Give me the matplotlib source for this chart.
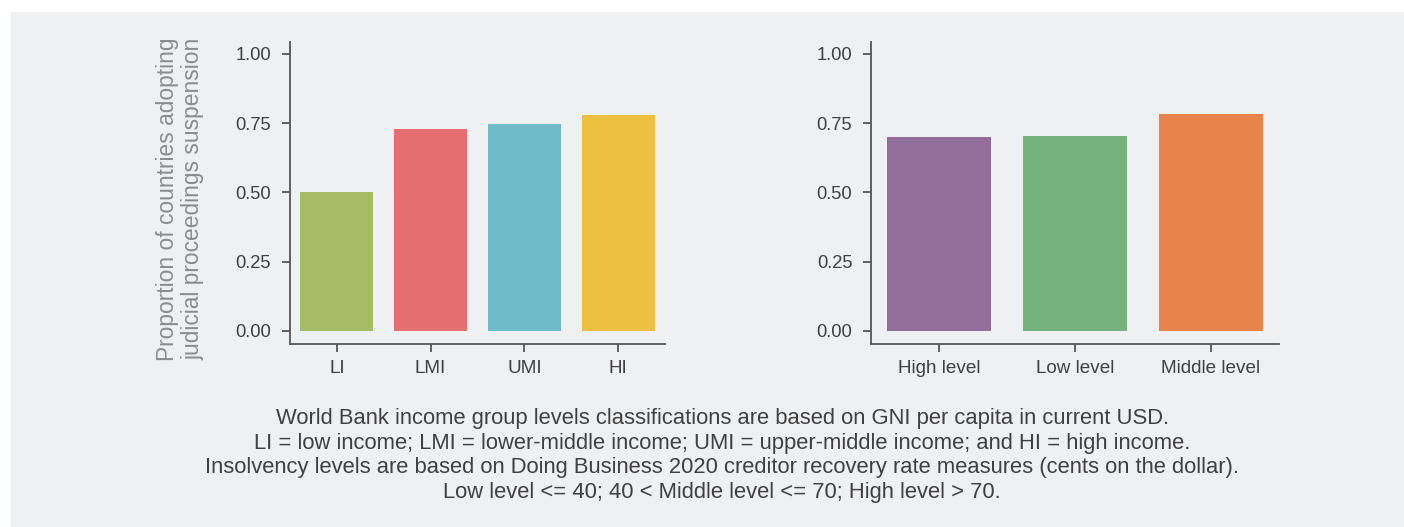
import matplotlib.pyplot as plt
from matplotlib.patches import Rectangle

# Data
income_groups = ["LI", "LMI", "UMI", "HI"]
income_values = [0.50, 0.73, 0.748, 0.781]
income_colors = ["#a5bc67", "#e56f6f", "#6fbcc8", "#eec03f"]

insolvency_levels = ["High level", "Low level", "Middle level"]
insolvency_values = [0.701, 0.705, 0.784]
insolvency_colors = ["#926e9b", "#76b27c", "#e8844a"]

caption = ("World Bank income group levels classifications are based on GNI per capita in current USD.\n"
           "LI = low income; LMI = lower-middle income; UMI = upper-middle income; and HI = high income.\n"
           "Insolvency levels are based on Doing Business 2020 creditor recovery rate measures (cents on the dollar).\n"
           "Low level <= 40; 40 < Middle level <= 70; High level > 70.")

plt.rcParams['font.family'] = ['Liberation Sans', 'DejaVu Sans']

W, H = 1404, 527
bg = "#eff0f2"
text_col = "#404040"
spine_col = "#555555"

fig = plt.figure(figsize=(W / 100, H / 100), dpi=100, facecolor="white")
fig.patches.append(Rectangle((11 / W, 0), 1, 1 - 12 / H, transform=fig.transFigure,
                             facecolor=bg, edgecolor="none", zorder=-10))

ax1 = fig.add_axes([290 / W, (H - 344) / H, (665 - 290) / W, (344 - 42) / H])
ax2 = fig.add_axes([871 / W, (H - 344) / H, (1279 - 871) / W, (344 - 42) / H])


def style(ax, labels, values, colors, width):
    ax.set_facecolor("none")
    ax.bar(range(len(labels)), values, width=width, color=colors)
    ax.set_xlim(-0.5, len(labels) - 0.5)
    ax.set_ylim(-0.047, 1.043)
    ax.set_yticks([0, 0.25, 0.5, 0.75, 1.0])
    ax.set_yticklabels(["0.00", "0.25", "0.50", "0.75", "1.00"])
    ax.set_xticks(range(len(labels)))
    ax.set_xticklabels(labels)
    for s in ["top", "right"]:
        ax.spines[s].set_visible(False)
    for s in ["left", "bottom"]:
        ax.spines[s].set_color(spine_col)
        ax.spines[s].set_linewidth(1.3)
    ax.tick_params(axis="both", colors=spine_col, labelcolor=text_col,
                   length=5.5, width=1.3)
    ax.tick_params(axis="y", labelsize=13.2, pad=8)
    ax.tick_params(axis="x", labelsize=13.6, pad=6)


style(ax1, income_groups, income_values, income_colors, 0.78)
style(ax2, insolvency_levels, insolvency_values, insolvency_colors, 0.765)

fig.text(180 / W, 1 - 199 / H, "Proportion of countries adopting\njudicial proceedings suspension",
         rotation=90, ha="center", va="center", color="#8c8c8c", fontsize=16.4,
         linespacing=1.12)

fig.text(722 / W, 1 - 455.5 / H, caption, ha="center", va="center", color=text_col,
         fontsize=15.8, linespacing=1.24)

fig.savefig("out.png", dpi=100, facecolor=fig.get_facecolor())
